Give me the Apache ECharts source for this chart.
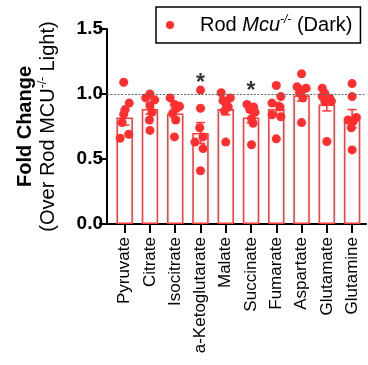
<!DOCTYPE html>
<html>
<head>
<meta charset="utf-8">
<script src="https://cdn.jsdelivr.net/npm/echarts@6/dist/echarts.min.js"></script>
<style>
html,body{margin:0;padding:0;background:#fff;}
#chart{width:368px;height:365px;}
</style>
</head>
<body>
<div id="chart"></div>
<script>
// ---- data ----
const categories = ['Pyruvate','Citrate','Isocitrate','a-Ketoglutarate','Malate','Succinate','Fumarate','Aspartate','Glutamate','Glutamine'];
const barMeans = [0.82, 0.885, 0.85, 0.70, 0.885, 0.82, 0.885, 0.99, 0.92, 0.81];
const barSem   = [0.06, 0.04, 0.035, 0.08, 0.045, 0.04, 0.05, 0.045, 0.05, 0.07];
const dotValues = [
  [1.09, 0.93, 0.88, 0.845, 0.78, 0.66, 0.69],
  [1.00, 0.97, 0.955, 0.91, 0.86, 0.80, 0.72],
  [0.97, 0.92, 0.905, 0.89, 0.85, 0.80, 0.67],
  [1.03, 0.89, 0.74, 0.67, 0.63, 0.58, 0.41],
  [1.01, 0.97, 0.95, 0.92, 0.90, 0.87, 0.63],
  [0.92, 0.90, 0.88, 0.86, 0.81, 0.775, 0.61],
  [1.065, 0.98, 0.93, 0.90, 0.84, 0.825, 0.655],
  [1.155, 1.055, 1.045, 1.03, 1.01, 0.97, 0.78],
  [1.045, 1.005, 0.98, 0.965, 0.94, 0.945, 0.635],
  [1.08, 0.98, 0.80, 0.79, 0.74, 0.57, 0.82]
];
const dotJitter = [
  [-0.04, 0.18, 0.02, -0.04, -0.10, -0.18, 0.16],
  [0.00, -0.17, 0.19, 0.00, 0.08, -0.02, 0.00],
  [-0.20, -0.03, 0.17, 0.05, -0.10, 0.02, -0.03],
  [0.00, 0.00, -0.03, 0.10, -0.22, 0.10, 0.00],
  [-0.18, 0.18, -0.11, 0.02, 0.10, -0.05, 0.00],
  [-0.16, 0.10, -0.05, 0.16, 0.02, 0.08, 0.02],
  [0.00, 0.18, -0.17, 0.15, -0.17, 0.18, 0.00],
  [0.00, -0.18, 0.18, 0.02, -0.08, 0.05, 0.00],
  [-0.18, -0.08, -0.18, 0.12, -0.08, 0.18, 0.00],
  [0.00, 0.00, -0.16, 0.04, -0.03, 0.00, 0.17]
];
const starCategories = [3, 5];
const starValues = [1.13, 1.07];
const yTicks = [0, 0.5, 1.0, 1.5];
const refLine = 1.0;
const seriesName = 'Rod Mcu-/- (Dark)';

// ---- build ----
const FONT = "'Liberation Sans', Arial, Helvetica, sans-serif";
const RED_DOT = '#ff2f2f';
const RED_BAR = '#ff3b3b';
const catIdx = categories.map((c, i) => i);

const barData = barMeans.map((v, i) => [i, v]);
const errData = barMeans.map((v, i) => [i, v, barSem[i]]);
const dotData = [];
dotValues.forEach((arr, i) => arr.forEach((v, j) => dotData.push([i + dotJitter[i][j], v])));
const starData = starCategories.map((c, k) => [c, starValues[k]]);

const chart = echarts.init(document.getElementById('chart'), null, {renderer: 'canvas'});
chart.setOption({
  animation: false,
  textStyle: {fontFamily: FONT},
  grid: {left: 107, right: 2, top: 29, bottom: 141, containLabel: false},
  legend: {
    left: 156, top: 7,
    padding: [7, 8, 7, 10],
    borderColor: '#000', borderWidth: 1.5,
    itemWidth: 8, itemHeight: 8, icon: 'circle',
    data: [{name: seriesName, icon: 'circle'}],
    formatter: function () { return '{g|}{a|Rod }{i|Mcu}{s|-/-}{a| (Dark)}'; },
    textStyle: {
      color: '#000', fontFamily: FONT, fontSize: 20, lineHeight: 22,
      rich: {
        g: {width: 21},
        a: {fontSize: 20, fontFamily: FONT, color: '#000', lineHeight: 22},
        i: {fontSize: 20, fontFamily: FONT, fontStyle: 'italic', color: '#000', lineHeight: 22},
        s: {fontSize: 12, fontFamily: FONT, fontStyle: 'italic', color: '#000', verticalAlign: 'top', lineHeight: 22}
      }
    }
  },
  xAxis: {
    type: 'value', min: -0.7, max: 9.55,
    axisLine: {show: true, onZero: false, lineStyle: {color: '#000', width: 2}},
    axisTick: {show: true, customValues: catIdx, length: 9, lineStyle: {color: '#000', width: 2}},
    axisLabel: {
      show: true, customValues: catIdx, rotate: 90, margin: 13,
      fontSize: 17, color: '#000', fontFamily: FONT,
      formatter: v => categories[Math.round(v)]
    },
    splitLine: {show: false}
  },
  yAxis: {
    type: 'value', min: 0, max: 1.5, interval: 0.5,
    axisLine: {show: true, onZero: false, lineStyle: {color: '#000', width: 2}},
    axisTick: {show: true, length: 8, lineStyle: {color: '#000', width: 2}},
    axisLabel: {
      margin: 4, fontSize: 19, fontWeight: 'bold', color: '#000', fontFamily: FONT,
      customValues: yTicks,
      formatter: v => v.toFixed(1)
    },
    splitLine: {show: false},
    name: '{b|Fold Change}\n{n|(Over Rod MCU}{s|-/-}{n| Light)}',
    nameLocation: 'middle', nameRotate: 90, nameGap: 47,
    nameTextStyle: {
      color: '#000', fontFamily: FONT, lineHeight: 23,
      rich: {
        b: {fontSize: 20, fontWeight: 'bold', fontFamily: FONT, color: '#000', lineHeight: 23},
        n: {fontSize: 20, fontFamily: FONT, color: '#000', lineHeight: 23},
        s: {fontSize: 12, fontFamily: FONT, color: '#000', verticalAlign: 'top', lineHeight: 23}
      }
    }
  },
  series: [
    {
      type: 'bar', name: 'bars', data: barData, barWidth: 16.5, z: 2,
      itemStyle: {color: '#ffffff', borderColor: RED_BAR, borderWidth: 1.6},
      markLine: {
        silent: true, symbol: 'none', label: {show: false},
        lineStyle: {color: '#666', type: [2, 1.5], width: 1},
        data: [{yAxis: refLine}]
      }
    },
    {
      type: 'custom', name: 'sem', data: errData, z: 3,
      encode: {x: 0, y: [1, 2]},
      renderItem: function (params, api) {
        const x = api.value(0), m = api.value(1), s = api.value(2);
        const top = api.coord([x, m + s]);
        const bot = api.coord([x, m - s]);
        const hw = 4.5;
        const st = {stroke: RED_BAR, lineWidth: 1.6};
        return {type: 'group', children: [
          {type: 'line', shape: {x1: top[0], y1: top[1], x2: bot[0], y2: bot[1]}, style: st},
          {type: 'line', shape: {x1: top[0] - hw, y1: top[1], x2: top[0] + hw, y2: top[1]}, style: st},
          {type: 'line', shape: {x1: bot[0] - hw, y1: bot[1], x2: bot[0] + hw, y2: bot[1]}, style: st}
        ]};
      }
    },
    {
      type: 'scatter', name: seriesName, data: dotData, z: 4,
      symbol: 'circle', symbolSize: 9,
      itemStyle: {color: RED_DOT, opacity: 1}
    },
    {
      type: 'scatter', name: 'stars', data: starData, z: 5,
      symbolSize: 0.01, itemStyle: {color: 'rgba(0,0,0,0)'},
      label: {show: true, position: 'inside', formatter: '*', fontSize: 23, fontWeight: 'bold', color: '#000', fontFamily: FONT, offset: [0, 7]}
    }
  ]
});
</script>
</body>
</html>
